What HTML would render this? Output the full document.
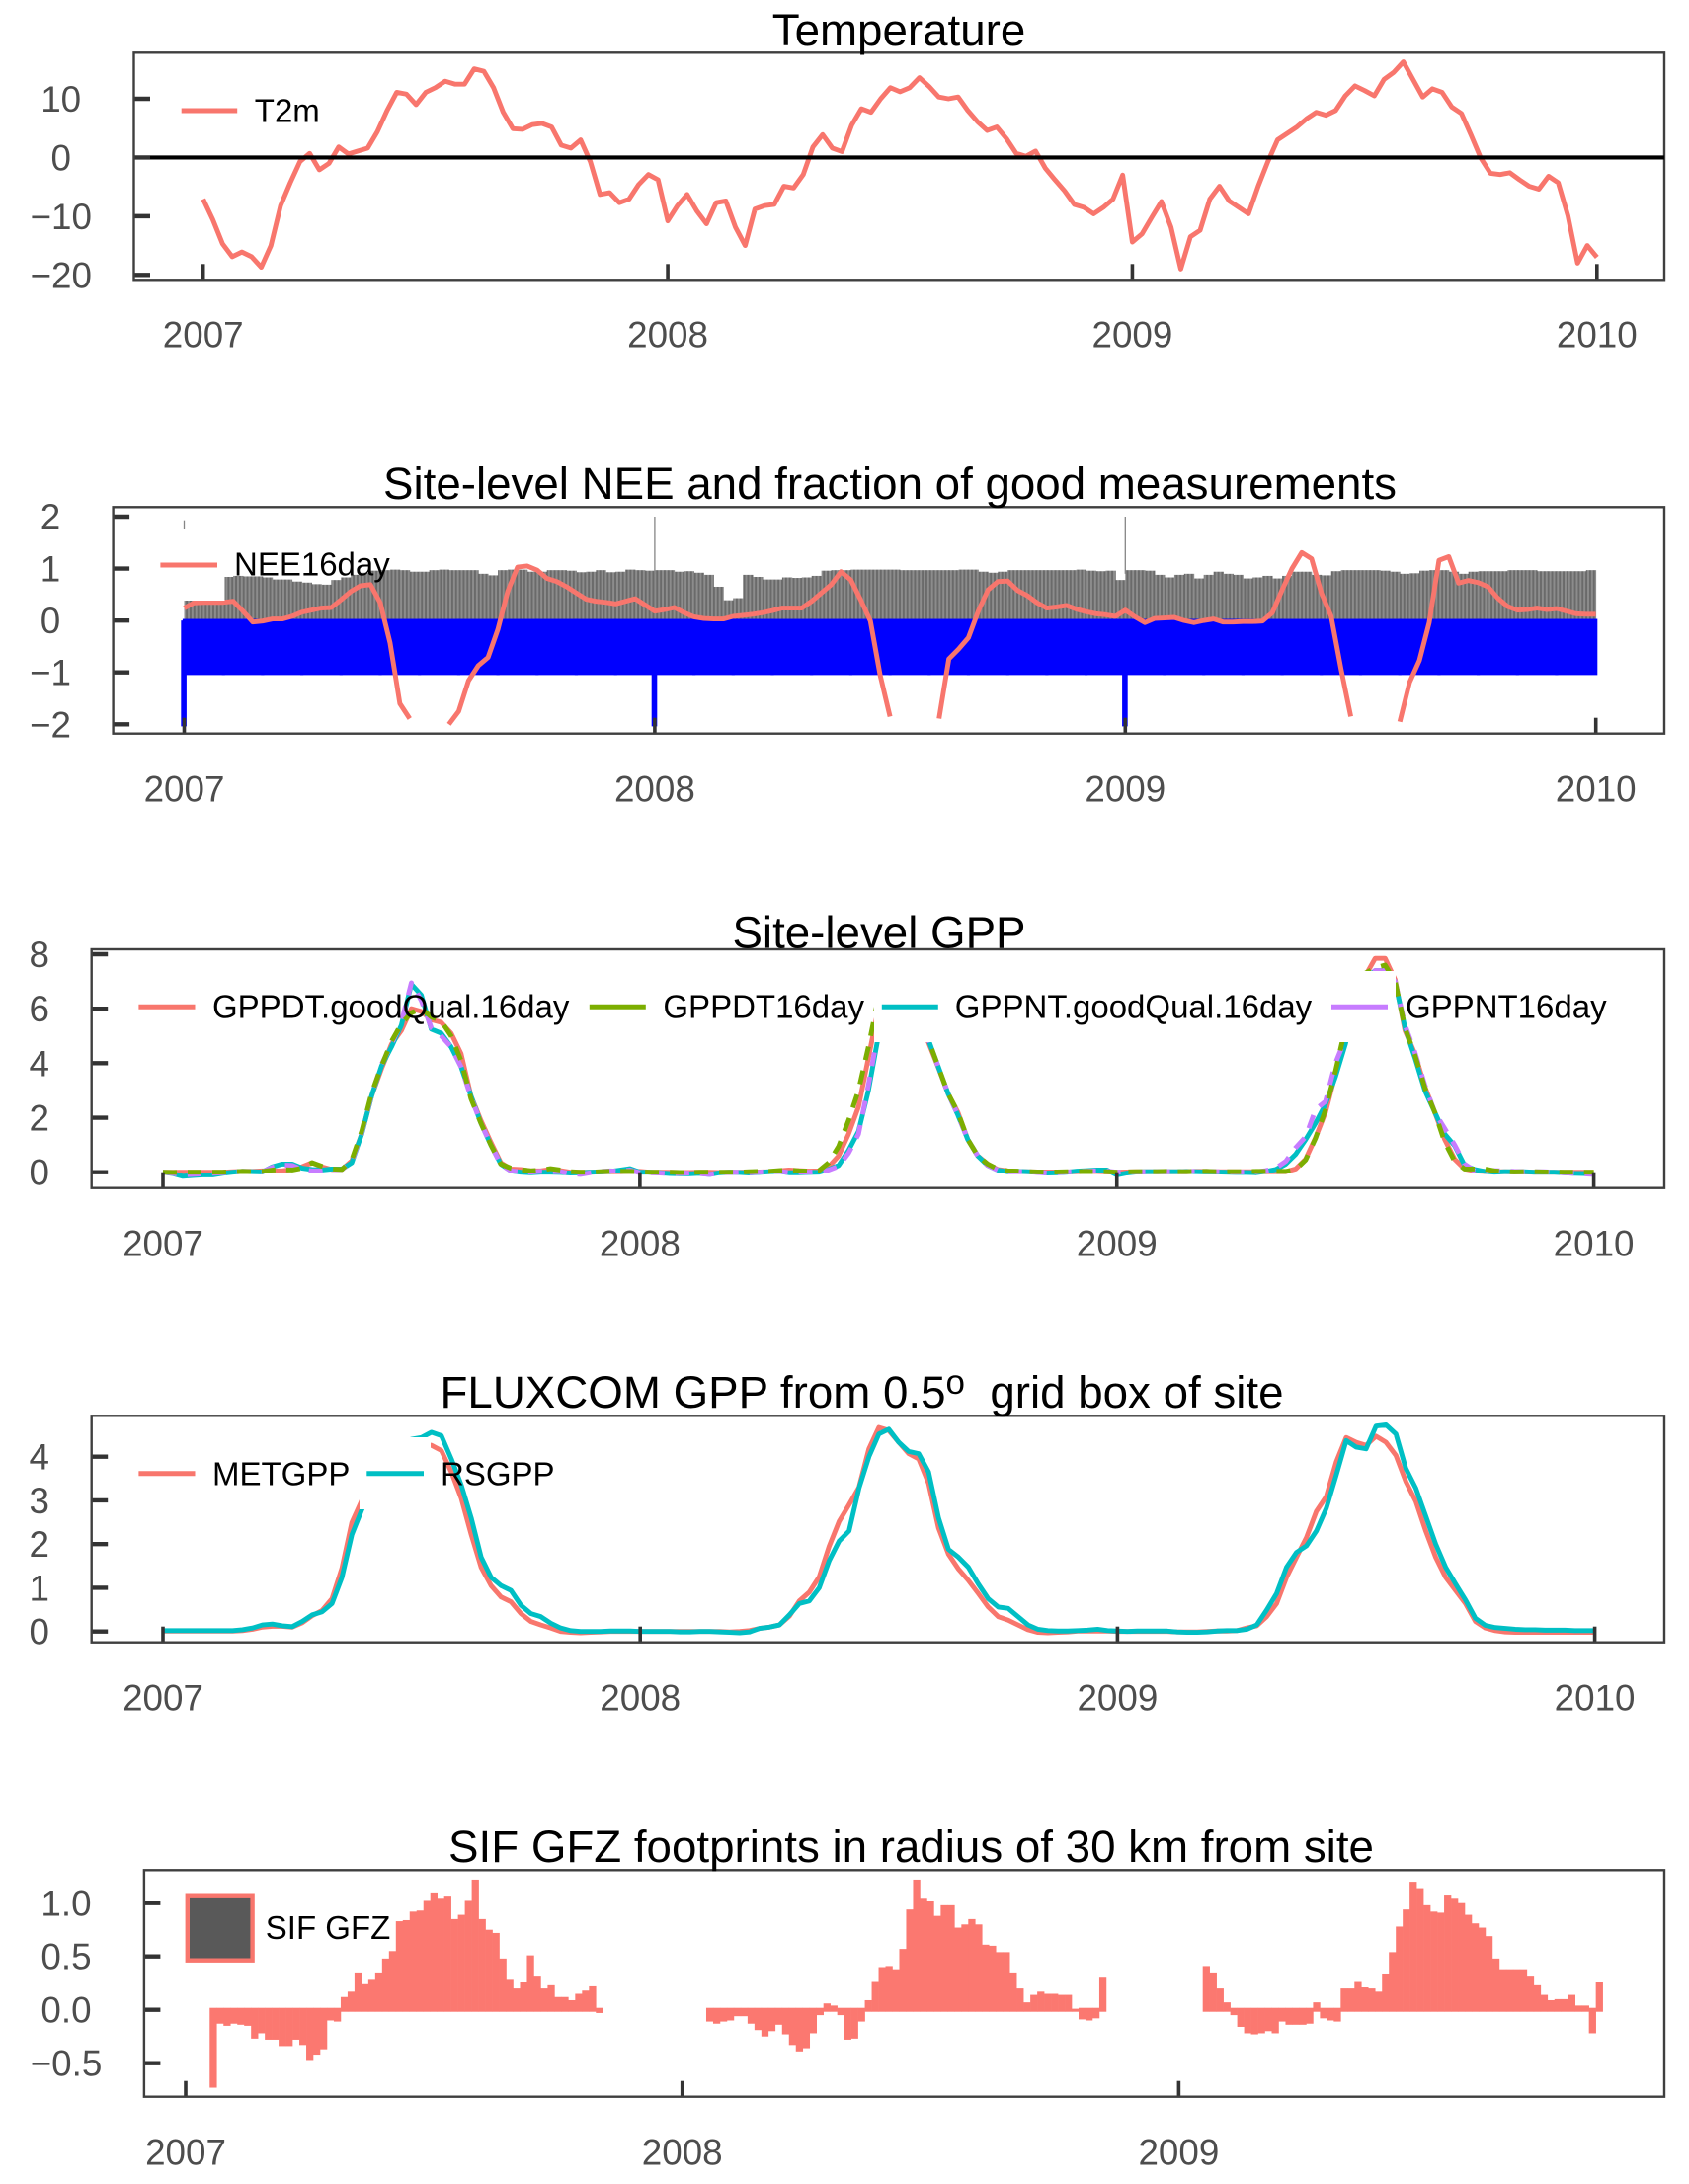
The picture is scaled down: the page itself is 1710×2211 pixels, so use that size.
<!DOCTYPE html>
<html lang="en">
<head>
<meta charset="utf-8">
<title>Site-level temperature, NEE, GPP and SIF time series</title>
<style>
html,body{margin:0;padding:0;background:#fff;}
svg{display:block;font-family:"Liberation Sans",Arial,sans-serif;}
.title{font-size:45.7px;fill:#000;}
.legend-text{font-size:33px;fill:#000;}
.tick-label{font-size:36.8px;fill:#4d4d4d;text-anchor:middle;}
</style>
</head>
<body>
<svg xmlns="http://www.w3.org/2000/svg" width="1710" height="2211" viewBox="0 0 1710 2211">
  <defs>
    <pattern id="bar-stripes" patternUnits="userSpaceOnUse" width="3.84" height="10">
      <rect width="3.84" height="10" fill="#8c8c8c"></rect>
      <rect width="1.9" height="10" fill="#6a6a6a"></rect>
    </pattern>
  </defs>
  <rect width="1710" height="2211" fill="#ffffff"></rect>

  <g>
    <g id="temp-marks"></g>
    <g id="temp-axes"></g>
    <text class="title" x="910" y="46" text-anchor="middle">Temperature</text>
    <g>
      <line x1="183.7" x2="240.2" y1="112" y2="112" stroke="#F8766D" stroke-width="5"></line>
      <text class="legend-text" x="257.8" y="123.3">T2m</text>
    </g>
  </g>

  <g>
    <g id="nee-marks"></g>
    <g id="nee-axes"></g>
    <text class="title" x="901" y="505" text-anchor="middle">Site-level NEE and fraction of good measurements</text>
    <g>
      <rect x="155" y="536" width="72.5" height="72" fill="#ffffff"></rect>
      <line x1="162.4" x2="220" y1="572" y2="572" stroke="#F8766D" stroke-width="5"></line>
      <text class="legend-text" x="237" y="582.7">NEE16day</text>
    </g>
  </g>

  <g>
    <g id="gpp-marks"></g>
    <g id="gpp-axes"></g>
    <text class="title" x="890" y="959.3" text-anchor="middle">Site-level GPP</text>
    <g>
      <rect x="133" y="983" width="72" height="72" fill="#ffffff"></rect>
      <line x1="140.4" x2="197.5" y1="1019.3" y2="1019.3" stroke="#F8766D" stroke-width="5"></line>
      <text class="legend-text" x="215" y="1030.7">GPPDT.goodQual.16day</text>
      <rect x="589" y="983" width="72" height="72" fill="#ffffff"></rect>
      <line x1="596.8" x2="653.8" y1="1019.3" y2="1019.3" stroke="#7CAE00" stroke-width="5"></line>
      <text class="legend-text" x="671.4" y="1030.7">GPPDT16day</text>
      <rect x="885" y="983" width="72" height="72" fill="#ffffff"></rect>
      <line x1="892.8" x2="949.8" y1="1019.3" y2="1019.3" stroke="#00BFC4" stroke-width="5"></line>
      <text class="legend-text" x="966.8" y="1030.7">GPPNT.goodQual.16day</text>
      <rect x="1340.5" y="983" width="72.5" height="72" fill="#ffffff"></rect>
      <line x1="1348" x2="1405" y1="1019.3" y2="1019.3" stroke="#C77CFF" stroke-width="5"></line>
      <text class="legend-text" x="1423" y="1030.7">GPPNT16day</text>
    </g>
  </g>

  <g>
    <g id="flux-marks"></g>
    <g id="flux-axes"></g>
    <text class="title" x="445.5" y="1425">FLUXCOM GPP from 0.5<tspan dy="-14" font-size="35">o</tspan><tspan dy="14">&#160;&#160;grid box of site</tspan></text>
    <g>
      <rect x="133" y="1455" width="72" height="73" fill="#ffffff"></rect>
      <line x1="140.4" x2="197.5" y1="1491.7" y2="1491.7" stroke="#F8766D" stroke-width="5"></line>
      <text class="legend-text" x="215" y="1503.3">METGPP</text>
      <rect x="364" y="1455" width="72" height="73" fill="#ffffff"></rect>
      <line x1="371.3" x2="429" y1="1491.7" y2="1491.7" stroke="#00BFC4" stroke-width="5"></line>
      <text class="legend-text" x="446" y="1503.3">RSGPP</text>
    </g>
  </g>

  <g>
    <g id="sif-marks"></g>
    <g id="sif-axes"></g>
    <text class="title" x="922.5" y="1885" text-anchor="middle">SIF GFZ footprints in radius of 30 km from site</text>
    <g>
      <rect x="189.8" y="1918.7" width="65.8" height="66" fill="#595959" stroke="#F8766D" stroke-width="4.4"></rect>
      <text class="legend-text" x="268.8" y="1963">SIF GFZ</text>
    </g>
  </g>
</svg>

<script>
// ---- shared axis data ----
const yearTicks = [2007, 2008, 2009, 2010];
const yearLabels = ["2007", "2008", "2009", "2010"];
const sifYearTicks = [2007, 2008, 2009];
const sifYearLabels = ["2007", "2008", "2009"];
const tempYTicks = [10, 0, -10, -20];
const tempYLabels = ["10", "0", "\u221210", "\u221220"];
const neeYTicks = [2, 1, 0, -1, -2];
const neeYLabels = ["2", "1", "0", "\u22121", "\u22122"];
const gppYTicks = [8, 6, 4, 2, 0];
const gppYLabels = ["8", "6", "4", "2", "0"];
const fluxYTicks = [4, 3, 2, 1, 0];
const fluxYLabels = ["4", "3", "2", "1", "0"];
const sifYTicks = [1, 0.5, 0, -0.5];
const sifYLabels = ["1.0", "0.5", "0.0", "\u22120.5"];
const referenceLineValues = [0];

// ---- series: one value per 1/48 year starting 2007.0 ----
const t2mValues = [
-7.1,-10.6,-14.7,-16.9,-16.1,-16.9,-18.7,-15,-8.2,-4.3,-0.7,0.7,
-2.1,-1,1.8,0.6,1.1,1.6,4.4,8,11.1,10.8,9,11.1,
11.9,13,12.5,12.5,15.1,14.7,11.9,7.7,4.9,4.8,5.6,5.8,
5.2,2.1,1.6,3,-0.7,-6.3,-6,-7.7,-7.1,-4.6,-2.9,-3.8,
-10.8,-8.2,-6.3,-9.1,-11.3,-7.7,-7.4,-11.9,-15,-8.8,-8.2,-8,
-4.9,-5.2,-2.9,1.8,3.9,1.6,1,5.5,8.3,7.7,10,11.9,
11.2,11.9,13.6,12.1,10.3,10,10.3,8,6.1,4.6,5.2,3.2,
0.7,0.2,1.1,-1.8,-3.8,-5.7,-8,-8.5,-9.6,-8.5,-7.1,-3,
-14.4,-13,-10.2,-7.5,-11.9,-19,-13.5,-12.4,-7.1,-4.9,-7.4,-8.5,
-9.6,-4.9,-0.7,3,4.1,5.2,6.6,7.7,7.2,8,10.5,12.2,
11.4,10.5,13.3,14.5,16.3,13.3,10.3,11.7,11.1,8.6,7.5,3.8,
-0.1,-2.7,-2.9,-2.6,-3.8,-4.9,-5.4,-3.2,-4.3,-9.9,-18,-15,-17];

const nee16dayValues = [
.24,.34,.35,.35,.35,.37,.18,-.03,-.01,.03,.03,.08,
.16,.2,.24,.25,.4,.56,.67,.69,.34,-.43,-1.6,-1.89,
null,null,null,-2,-1.75,-1.16,-.87,-.71,-.17,.56,1.03,1.05,
.97,.81,.75,.65,.53,.41,.37,.35,.32,.37,.42,.3,
.18,.21,.25,.15,.07,.04,.03,.03,.08,.1,.12,.15,
.19,.24,.24,.24,.37,.53,.69,.94,.78,.4,-.01,-1.06,
-1.85,null,null,null,null,-1.89,-.74,-.55,-.33,.18,.59,.75,
.76,.58,.48,.34,.24,.26,.29,.22,.17,.13,.11,.08,
.2,.07,-.04,.04,.05,.06,0,-.04,0,.03,-.03,-.03,
-.02,-.02,-.01,.15,.59,1,1.31,1.19,.53,.08,-.93,-1.85,
null,null,null,null,-1.95,-1.19,-.77,-.04,1.16,1.23,.72,.77,
.73,.65,.43,.27,.2,.21,.24,.21,.23,.18,.13,.12,.12];

const goodFractionValues = [
.84,.84,.84,.84,.84,.86,.85,.85,.83,.79,.79,.75,
.73,.7,.69,.78,.83,.88,.92,.96,.97,.98,.97,.94,
.94,.97,.98,.97,.97,.97,.9,.87,.97,.98,.98,.94,
.94,.97,.97,.96,.93,.94,.97,.93,.94,.98,.97,.96,
.97,.97,.94,.95,.92,.88,.65,.39,.43,.88,.84,.79,
.79,.83,.82,.83,.86,.96,.97,.97,.98,.98,.98,.98,
.98,.97,.97,.97,.97,.97,.97,.98,.98,.94,.92,.94,
.97,.97,.97,.97,.97,.97,.97,.98,.96,.95,.96,.78,
.97,.97,.96,.88,.83,.88,.9,.81,.88,.94,.9,.88,
.81,.83,.86,.81,.86,.94,.94,.88,.87,.95,.97,.97,
.97,.97,.96,.94,.9,.91,.96,.97,.97,.94,.9,.94,
.95,.95,.95,.97,.97,.97,.95,.95,.95,.95,.95,.97];

const fractionSpikeYears = [2007, 2008, 2009];
const fractionSpikeTops = [1.93, 2, 2];

// blue band: one value per month
const blueBandValues = [
-1.02,-1.02,-1.02,-1.02,-1.02,-1.02,-1.02,-1.02,-1.02,-1.02,-1.02,-1.02,
-1.02,-1.02,-1.02,-1.02,-1.02,-1.02,-1.02,-1.02,-1.02,-1.02,-1.02,-1.02,
-1.02,-1.02,-1.02,-1.02,-1.02,-1.02,-1.02,-1.02,-1.02,-1.02,-1.02,-1.02];
const blueSpikeYears = [2007, 2008, 2009];
const blueSpikeValues = [-2.04, -2.04, -2.04];

const gppdtGoodValues = [
0,0,0,0,0,0,0,.02,.03,.03,.05,.05,
.05,.1,.2,.35,.2,.1,.1,.42,1.4,2.8,3.8,4.7,
5.2,6,5.9,5.6,5.5,5.1,4.35,2.8,1.9,1.1,.35,.12,
.1,.05,.05,.1,.06,0,0,0,.01,.02,.02,.03,
.03,0,0,0,-.01,-.01,0,0,-.01,0,0,.01,
.01,.02,.05,.08,.06,.04,.05,.2,.6,1.4,2.4,4.2,
6,6.6,7,7,6.5,4.8,3.87,2.9,2.2,1.2,.6,.3,
.1,.05,.03,.02,.01,.01,.01,.01,.02,.03,.03,.01,
0,.01,.02,.02,.02,.02,.02,.02,.03,.03,.02,.02,
.02,.02,.02,.02,.02,.02,.12,.48,1.27,2.2,3.6,5.2,
6.4,7.2,7.85,7.85,7.07,5.2,4.35,3.14,2.2,1.2,.48,.12,
.05,.03,.02,.02,.01,.01,0,0,0,0,0,0,0];

const gppdtValues = [
0,-.01,0,0,0,0,0,.02,.03,.02,.03,.08,
.1,.08,.15,.35,.22,.12,.1,.45,1.5,2.9,3.9,4.8,
5.45,5.85,6,5.7,5.55,5,4.1,2.7,1.8,1,.3,.15,
.1,.05,.08,.13,.08,.02,0,0,.02,.03,.03,.03,
.02,0,0,0,-.01,-.01,0,0,0,0,0,.02,
.03,.03,.06,.08,.05,.04,.05,.35,.95,1.9,3,4.6,
6.4,6.9,7,7,6.4,4.9,3.9,2.9,2.2,1.2,.6,.3,
.12,.05,.04,.02,.01,0,.01,.02,.02,.03,.02,.02,
0,.01,.02,.02,.02,.03,.02,.02,.03,.03,.02,.02,
.02,.02,.03,.03,.03,.03,.1,.45,1.25,2.3,3.7,5.3,
6.5,7.3,7.5,7.6,7,5.3,4.3,3.1,2.2,1.1,.4,.12,
.12,.12,.05,.02,.01,.02,.02,.01,.01,0,0,0,0];

const gppntGoodValues = [
0,-.05,-.15,-.12,-.1,-.1,-.04,0,.03,.02,.01,.2,
.3,.3,.15,.1,.08,.12,.12,.35,1.4,2.8,3.9,4.6,
5.4,6.9,6.5,5.25,5.1,4.6,3.87,2.8,1.8,1,.3,.05,
0,-.02,0,0,-.01,-.03,-.02,0,.01,.03,.08,.13,
0,0,-.02,-.05,-.06,-.06,-.04,-.08,-.02,0,-.01,-.03,
-.01,.02,.03,-.02,-.02,-.01,0,.1,.25,.8,1.5,3,
5,6.2,6.9,7,6.2,4.9,3.9,2.9,2.1,1.2,.6,.25,
.08,.02,.03,.02,0,-.03,-.02,0,.04,.06,.08,.08,
-.1,-.03,.01,.02,.02,.02,.02,.03,.02,.01,.01,0,
-.01,-.01,-.02,.03,.1,.3,.66,1.2,1.8,2.5,3.5,4.7,
6.3,7.1,7.4,7.4,7,5.3,4.2,3,2.2,1.4,.97,.25,
.1,.03,0,.02,.02,.02,0,0,0,-.02,-.04,-.05,-.05];

const gppntValues = [
0,-.04,-.1,-.08,-.06,-.04,-.02,0,.03,.03,.02,.18,
.26,.25,.1,.05,.05,.1,.1,.38,1.45,2.85,3.95,4.7,
5.5,6.95,6.3,5.3,5,4.6,3.87,2.75,1.8,1,.28,.05,
.02,0,.03,.02,.02,-.05,-.08,-.02,.03,.05,.03,.08,
-.02,-.02,-.03,-.05,-.04,-.03,-.05,-.08,-.03,-.01,0,-.02,
0,.03,.03,-.01,0,0,.02,.08,.22,.7,1.4,3.2,
5.2,6.3,6.9,7,6.3,4.9,3.9,2.9,2.1,1.2,.6,.25,
.08,.02,.02,.02,-.01,-.03,-.02,.01,.03,.04,.05,.04,
0,.01,.01,.01,.02,.02,.02,.02,.04,.03,.02,.01,
0,.01,.01,.06,.15,.4,.9,1.3,2.3,2.6,4,4.9,
6.3,7.1,7.4,7.4,7,5.4,4.4,3.2,2.2,1.6,1,.3,
.05,.06,.06,.05,.03,.02,.02,.02,0,-.02,-.04,-.06,-.08];

const metGppValues = [
.01,.01,.01,.01,.01,.01,.01,.01,.02,.05,.1,.12,
.12,.1,.2,.36,.48,.75,1.45,2.5,3,3.4,3.8,4.1,
4.25,4.3,4.3,4.26,4.14,3.65,3.05,2.22,1.47,1.05,.79,.68,
.41,.23,.15,.08,0,-.02,-.03,-.02,-.01,0,0,0,
0,0,0,0,0,0,0,0,0,-.01,0,.02,
.07,.1,.15,.35,.7,.9,1.25,1.95,2.52,2.9,3.3,4.18,
4.67,4.6,4.33,4.07,3.95,3.39,2.37,1.77,1.43,1.17,.87,.56,
.34,.26,.15,.04,-.02,-.03,-.02,-.01,.01,.01,.01,.01,
0,0,0,0,0,0,-.01,-.01,-.01,0,.01,.01,
.02,.08,.13,.34,.64,1.24,1.7,2.15,2.75,3.09,3.88,4.44,
4.33,4.26,4.47,4.33,4.03,3.43,2.98,2.3,1.7,1.24,.94,.64,
.23,.08,.02,-.01,-.02,-.02,-.02,-.02,-.02,-.02,-.02,-.02,-.02];

const rsGppValues = [
.02,.02,.02,.02,.02,.02,.02,.02,.04,.08,.15,.17,
.13,.11,.23,.38,.45,.64,1.24,2.22,2.79,3.3,3.8,4.1,
4.3,4.4,4.44,4.56,4.48,3.95,3.35,2.6,1.7,1.24,1.05,.94,
.6,.41,.34,.19,.08,.02,0,0,0,.01,.01,.01,
0,0,0,0,-.01,-.01,0,0,-.01,-.02,-.03,-.01,
.07,.1,.15,.38,.64,.7,1,1.62,2.07,2.3,3.28,4,
4.52,4.63,4.33,4.12,4.07,3.65,2.6,1.88,1.7,1.47,1.09,.75,
.56,.53,.34,.15,.05,.02,.01,.01,.02,.03,.05,.02,
.01,0,.01,.01,.01,.01,-.01,-.02,-.02,-.01,.01,.02,
.02,.05,.15,.49,.87,1.47,1.81,1.96,2.3,2.82,3.58,4.37,
4.22,4.18,4.7,4.73,4.52,3.73,3.28,2.64,2,1.47,1.09,.72,
.3,.14,.09,.07,.05,.04,.04,.03,.03,.03,.02,.02,.02];

// SIF bars: one value per 1/72 year starting 2007.0
const sifValues = [
null,null,null,null,-.73,-.13,-.15,-.13,-.14,-.15,-.27,-.22,
-.28,-.28,-.34,-.34,-.28,-.33,-.47,-.42,-.37,-.1,-.11,.12,
.17,.35,.24,.29,.35,.48,.55,.83,.84,.92,.93,1.03,
1.1,1.05,1.07,.85,.89,1.03,1.22,.85,.75,.72,.48,.29,
.2,.26,.51,.32,.2,.23,.12,.12,.09,.15,.18,.22,
-.03,null,null,null,null,null,null,null,null,null,null,null,
null,null,null,null,-.11,-.13,-.11,-.1,-.06,-.06,-.13,-.19,
-.25,-.2,-.14,-.23,-.33,-.39,-.36,-.22,-.05,.06,.04,-.05,
-.28,-.27,-.11,.09,.27,.4,.41,.38,.57,.94,1.22,1.05,
1.02,.88,.98,.98,.77,.8,.85,.8,.61,.6,.54,.54,
.35,.2,.07,.14,.17,.15,.15,.14,.14,.01,-.09,-.1,
-.08,.31,null,null,null,null,null,null,null,null,null,null,
null,null,null,null,.41,.35,.2,.07,-.05,-.16,-.22,-.23,
-.22,-.2,-.22,-.11,-.14,-.14,-.14,-.13,.07,-.08,-.1,-.11,
.2,.2,.27,.21,.2,.17,.34,.54,.78,.94,1.2,1.14,
.98,.92,.91,1.08,1.05,1,.89,.81,.77,.69,.48,.38,
.38,.38,.38,.32,.23,.14,.09,.1,.1,.14,.04,.04,
-.22,.26];

// ---- axis functions ----
function linearScale(d0, d1, r0, r1) {
  return function (v) { return r0 + (v - d0) * (r1 - r0) / (d1 - d0); };
}
const SVG_NS = document.querySelector('svg').namespaceURI;
function make(tag, attrs) {
  const el = document.createElementNS(SVG_NS, tag);
  for (const k in attrs) el.setAttribute(k, attrs[k]);
  return el;
}
const tempPanel = {left:135.5,right:1685,top:53.3,bottom:283.3,labelX:61.7,labelBase:351.7,
  x:linearScale(2007,2010,205.7,1616.8), y:linearScale(-20,10,278.3,100)};
const neePanel = {left:114.6,right:1685,top:513.3,bottom:742.7,labelX:51,labelBase:811.7,
  x:linearScale(2007,2010,186.5,1615.7), y:linearScale(-2,2,733.3,523)};
const gppPanel = {left:92.7,right:1685,top:961,bottom:1202.7,labelX:39.7,labelBase:1271.7,
  x:linearScale(2007,2010,165,1613.6), y:linearScale(0,8,1186.7,966)};
const fluxPanel = {left:92.7,right:1685,top:1433.3,bottom:1662.7,labelX:39.7,labelBase:1731.7,
  x:linearScale(2007,2010,165,1614.6), y:linearScale(0,4,1651.7,1474.7)};
const sifPanel = {left:145.9,right:1685,top:1893.3,bottom:2122.7,labelX:67,labelBase:2191.7,
  x:linearScale(2007,2009,188,1193.4), y:linearScale(-0.5,1,2088.7,1926.7)};

function drawAxes(groupId, p, xTicks, xLabels, yTicks, yLabels) {
  const g = document.getElementById(groupId);
  xTicks.forEach(function (t, i) {
    const tick = make('line', {x1:p.x(t), x2:p.x(t), y1:p.bottom, y2:p.bottom-16, stroke:'#333333', 'stroke-width':3.6});
    
    
    g.appendChild(tick);
    const label = make('text', {x:p.x(t), y:p.labelBase, class:'tick-label'});
    
    
    label.textContent = xLabels[i];
    g.appendChild(label);
  });
  yTicks.forEach(function (t, i) {
    const tick = make('line', {x1:p.left, x2:p.left+16.5, y1:p.y(t), y2:p.y(t), stroke:'#333333', 'stroke-width':4.4});
    
    
    g.appendChild(tick);
    const label = make('text', {x:p.labelX, y:p.y(t)+13, class:'tick-label'});
    
    
    label.textContent = yLabels[i];
    g.appendChild(label);
  });
  const frame = make('rect', {x:p.left, y:p.top, width:p.right-p.left, height:p.bottom-p.top, fill:'none', stroke:'#3f3f3f', 'stroke-width':2.4});
  
  
  g.appendChild(frame);
}

function linePath(values, step, p) {
  let d = '', pen = false;
  values.forEach(function (v, i) {
    if (v === null) { pen = false; return; }
    const px = p.x(2007 + i * step).toFixed(2), py = p.y(v).toFixed(2);
    d += (pen ? 'L' : 'M') + px + ' ' + py;
    pen = true;
  });
  return d;
}

function drawLine(groupId, values, p, color, dash, name) {
  const path = make('path', {d:linePath(values, 1/48, p), fill:'none', stroke:color, 'stroke-width':4.9, 'stroke-linejoin':'round'});
  if (dash) path.setAttribute('stroke-dasharray', dash);
  
  
  document.getElementById(groupId).appendChild(path);
}

// ---- temperature ----
drawLine('temp-marks', t2mValues, tempPanel, '#F8766D', null, 't2m-line');
drawAxes('temp-axes', tempPanel, yearTicks, yearLabels, tempYTicks, tempYLabels);
referenceLineValues.forEach(function (v) {
  const ref = make('line', {x1:tempPanel.left+16.5, x2:tempPanel.right, y1:tempPanel.y(v), y2:tempPanel.y(v), stroke:'#000000', 'stroke-width':4.2});
  
  
  document.getElementById('temp-axes').appendChild(ref);
});

// ---- NEE ----
(function () {
  const g = document.getElementById('nee-marks');
  const p = neePanel;
  goodFractionValues.forEach(function (v, i) {
    const x0 = p.x(2007 + i / 48), x1 = p.x(2007 + (i + 1) / 48);
    const bar = make('rect', {x:x0, y:p.y(v), width:x1-x0+0.4, height:p.y(0)-p.y(v), fill:'url(#bar-stripes)'});
    
    
    g.appendChild(bar);
  });
  fractionSpikeYears.forEach(function (yr, i) {
    const spike = make('line', {x1:p.x(yr), x2:p.x(yr), y1:p.y(fractionSpikeTops[i]), y2:p.y(0.9), stroke:'#858585', 'stroke-width':1.3});
    
    
    g.appendChild(spike);
  });
  blueBandValues.forEach(function (v, i) {
    const x0 = p.x(2007 + i / 12), x1 = p.x(2007 + (i + 1) / 12);
    const bar = make('rect', {x:x0, y:p.y(0), width:x1-x0, height:p.y(v)-p.y(0), fill:'#0000ff', stroke:'#0000ff', 'stroke-width':3.2});
    
    
    g.appendChild(bar);
  });
  blueSpikeYears.forEach(function (yr, i) {
    const spike = make('rect', {x:p.x(yr)-3.2, y:p.y(0), width:5.6, height:p.y(blueSpikeValues[i])-p.y(0), fill:'#0000ff'});
    
    
    g.appendChild(spike);
  });
})();
drawLine('nee-marks', nee16dayValues, neePanel, '#F8766D', null, 'nee16day-line');
drawAxes('nee-axes', neePanel, yearTicks, yearLabels, neeYTicks, neeYLabels);

// ---- GPP ----
drawLine('gpp-marks', gppdtGoodValues, gppPanel, '#F8766D', null, 'gppdt-goodqual-line');
drawLine('gpp-marks', gppntGoodValues, gppPanel, '#00BFC4', null, 'gppnt-goodqual-line');
drawLine('gpp-marks', gppntValues, gppPanel, '#C77CFF', '14 11', 'gppnt-line');
drawLine('gpp-marks', gppdtValues, gppPanel, '#7CAE00', '14 11', 'gppdt-line');
drawAxes('gpp-axes', gppPanel, yearTicks, yearLabels, gppYTicks, gppYLabels);

// ---- FLUXCOM ----
drawLine('flux-marks', metGppValues, fluxPanel, '#F8766D', null, 'metgpp-line');
drawLine('flux-marks', rsGppValues, fluxPanel, '#00BFC4', null, 'rsgpp-line');
drawAxes('flux-axes', fluxPanel, yearTicks, yearLabels, fluxYTicks, fluxYLabels);

// ---- SIF ----
(function () {
  const g = document.getElementById('sif-marks');
  const p = sifPanel;
  sifValues.forEach(function (v, i) {
    if (v === null) return;
    const cx = p.x(2007 + i / 72);
    const w = p.x(2007 + 1 / 72) - p.x(2007) + 0.3;
    const zero = p.y(0), yv = p.y(v);
    const top = v >= 0 ? yv : zero - 2;
    const bottom = v >= 0 ? zero + 2 : yv;
    const bar = make('rect', {x:cx-w/2, y:top, width:w, height:bottom-top, fill:'#FB7870'});
    
    
    g.appendChild(bar);
  });
})();
drawAxes('sif-axes', sifPanel, sifYearTicks, sifYearLabels, sifYTicks, sifYLabels);
</script>
</body>
</html>
